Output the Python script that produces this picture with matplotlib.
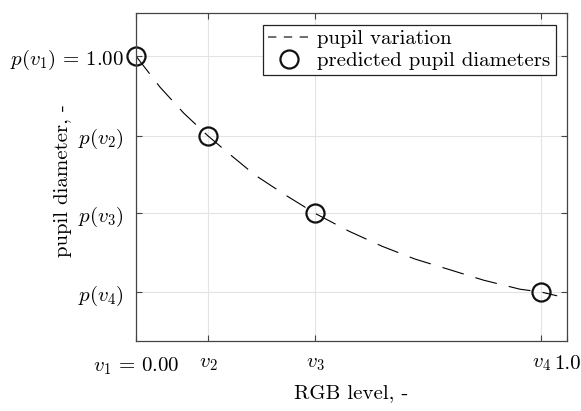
import numpy as np
import matplotlib
matplotlib.use('Agg')
import matplotlib.pyplot as plt
from matplotlib.lines import Line2D

plt.rcParams['font.family'] = 'serif'
plt.rcParams['font.serif'] = ['cmr10']
plt.rcParams['mathtext.fontset'] = 'cm'
plt.rcParams['axes.formatter.use_mathtext'] = True

# curve
curve_x = [0.0, 0.056, 0.111, 0.167, 0.211, 0.276, 0.346, 0.415, 0.494,
           0.571, 0.647, 0.729, 0.807, 0.891, 0.940, 0.977]
curve_y = [1.0, 0.934, 0.879, 0.831, 0.797, 0.748, 0.706, 0.667, 0.629,
           0.597, 0.570, 0.547, 0.525, 0.506, 0.500, 0.492]

# predicted points
v = [0.0, 0.167, 0.415, 0.940]
p = [1.0, 0.831, 0.667, 0.500]

xtick_labels = [r'$v_1\,=\,0.00$', r'$v_2$', r'$v_3$', r'$v_4$', '1.0']
ytick_labels = [r'$p(v_1)\,=\,1.00$', r'$p(v_2)$', r'$p(v_3)$', r'$p(v_4)$']

fs = 15

fig = plt.figure(figsize=(5.81, 4.11), dpi=100)
ax = fig.add_axes([0.234, 0.170, 0.742, 0.798])

ax.plot(curve_x, curve_y, color='black', lw=0.8, linestyle=(0, (20, 11)))
ax.plot(v, p, 'o', ms=13, mfc='none', mec='#111111', mew=1.6, clip_on=False)

ax.set_xlim(0, 1.0)
ax.set_ylim(0.396, 1.091)
ax.set_xticks(v + [1.0])
ax.set_xticklabels(xtick_labels)
ax.set_yticks(p)
ax.set_yticklabels(ytick_labels)

ax.tick_params(direction='in', top=True, right=True, labelsize=fs,
               length=4, color='#444444')
ax.tick_params(axis='y', pad=9)
ax.tick_params(axis='x', pad=10)
ax.grid(True, color='#e3e3e3', lw=0.8)
ax.set_axisbelow(True)
for s in ax.spines.values():
    s.set_color('#444444')
    s.set_linewidth(0.9)

ax.set_xlabel('RGB level, -', fontsize=fs)
ax.xaxis.set_label_coords(0.5, -0.132)
ax.set_ylabel('pupil diameter, -', fontsize=fs)
ax.yaxis.set_label_coords(-0.148, 0.49)

handles = [Line2D([], [], color='#555555', lw=1.2, linestyle=(0, (5, 4.5))),
           Line2D([], [], marker='o', ls='none', ms=13, mfc='none',
                  mec='#111111', mew=1.6)]
leg = ax.legend(handles, ['pupil variation', 'predicted pupil diameters'],
                loc='upper right', fontsize=fs, fancybox=False, framealpha=1,
                edgecolor='#222222', borderpad=0.25, labelspacing=0.15,
                handlelength=2.0, handletextpad=0.35, borderaxespad=0.55)
leg.get_frame().set_linewidth(0.9)

fig.savefig('out.png', dpi=100)
